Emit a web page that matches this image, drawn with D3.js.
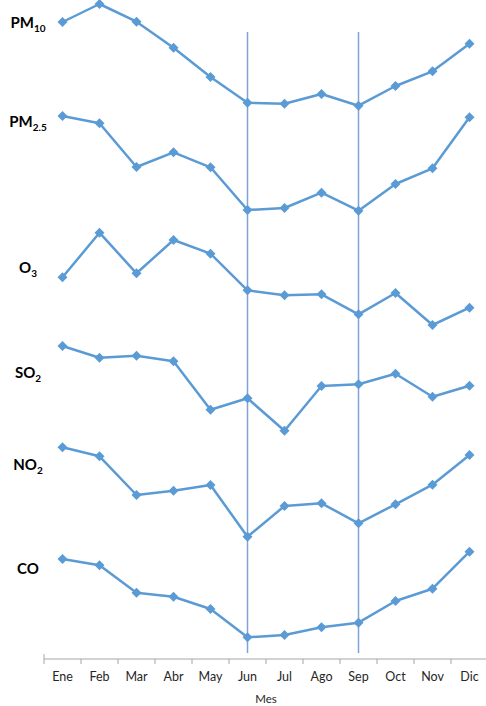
<!DOCTYPE html>
<html>
<head>
<meta charset="utf-8">
<script src="https://cdn.jsdelivr.net/npm/d3@7"></script>
<style>
  html, body { margin: 0; padding: 0; background: #fff; }
  svg { display: block; }
</style>
</head>
<body>
<svg id="chart" width="486" height="706"></svg>
<script>
const months = ["Ene","Feb","Mar","Abr","May","Jun","Jul","Ago","Sep","Oct","Nov","Dic"];
const xTitle = "Mes";
const seriesNames = ["PM10","PM2.5","O3","SO2","NO2","CO"];
const pm10 = [637, 655, 637.3, 611.3, 582, 556.3, 555.3, 565, 553.3, 573, 587.7, 615.3];
const pm25 = [543, 535.7, 492, 506.7, 491.7, 449, 451, 466.3, 448.3, 475, 490.7, 541.7];
const o3   = [381.7, 426.3, 385.7, 419, 405.3, 368.7, 363.7, 364.7, 344.7, 366, 334, 351.3];
const so2  = [313, 301.3, 303.3, 297.7, 249.3, 260.7, 228.3, 273, 274.7, 285.3, 262.3, 273.3];
const no2  = [211.7, 202.7, 164, 168.3, 174, 122.3, 153, 155.7, 135.7, 154.7, 174.3, 204];
const co   = [100, 93.7, 66.3, 62.3, 50, 21.7, 24, 31.7, 36.3, 58, 70.3, 107.3];
const markedMonths = ["Jun","Sep"];
const labelMain = ["PM","PM","O","SO","NO","CO"];
const labelSub  = ["10","2.5","3","2","2",""];

const seriesValues = [pm10, pm25, o3, so2, no2, co];

// layout
const axisY = 659, plotLeft = 44, plotRight = 488;
const labelY = [28, 127, 273, 378, 470, 574];
const labelX = 28;
const color = "#5b9bd5";

const svg = d3.select("#chart");
const x = d3.scaleBand().domain(months).range([plotLeft, plotRight]).padding(0);
const y = d3.scaleLinear().domain([0, 660]).range([axisY, axisY - 660]);
const cx = m => x(m) + x.bandwidth() / 2;

// vertical reference lines
svg.selectAll("line.ref").data(markedMonths).enter().append("line")
  .attr("class","ref")
  .attr("x1", m => cx(m)).attr("x2", m => cx(m))
  .attr("y1", 32).attr("y2", 653)
  .attr("stroke", "#7ea3d6").attr("stroke-width", 1.5);

// axis
const axisG = svg.append("g").attr("transform", `translate(0,${axisY})`);
axisG.append("line").attr("x1", plotLeft).attr("x2", plotRight).attr("y1", 0).attr("y2", 0)
  .attr("stroke", "#a6a6a6").attr("stroke-width", 1);
axisG.selectAll("line.tick").data(months.concat(["__end"])).enter().append("line")
  .attr("class","tick")
  .attr("x1", (m,i) => i < months.length ? x(m) : plotRight)
  .attr("x2", (m,i) => i < months.length ? x(m) : plotRight)
  .attr("y1", (m,i) => i === 0 ? -5 : 0).attr("y2", 5)
  .attr("stroke", "#a6a6a6").attr("stroke-width", 1);
const ax = d3.axisBottom(x).tickSize(0).tickPadding(13);
const axG2 = axisG.append("g").call(ax);
axG2.select(".domain").remove();
axG2.selectAll("text").attr("font-family", "Lato, 'Open Sans', sans-serif").attr("font-size", 12.5).attr("fill", "#262626");

svg.append("text").attr("x", (plotLeft + plotRight) / 2).attr("y", 703)
  .attr("text-anchor","middle").attr("font-family","Lato, 'Open Sans', sans-serif")
  .attr("font-size", 11.5).attr("fill", "#262626").text(xTitle);

// lines and markers
const line = d3.line().x((d,i) => cx(months[i])).y(d => y(d));
const marker = d3.symbol().type(d3.symbolSquare).size(50);
seriesValues.forEach((vals, si) => {
  const g = svg.append("g").attr("class", "series").attr("data-name", seriesNames[si]);
  g.append("path").datum(vals).attr("d", line)
    .attr("fill","none").attr("stroke", color).attr("stroke-width", 2.5).attr("stroke-linejoin","round");
  g.selectAll("path.pt").data(vals).enter().append("path")
    .attr("class","pt")
    .attr("d", marker)
    .attr("transform", (d,i) => `translate(${cx(months[i])},${y(d)}) rotate(45)`)
    .attr("fill", color);
});

// series labels
seriesNames.forEach((n, i) => {
  const t = svg.append("text").attr("x", labelX).attr("y", labelY[i])
    .attr("text-anchor","middle").attr("font-family","Lato, 'Open Sans', sans-serif")
    .attr("font-weight","bold").attr("font-size", 15).attr("fill","#000");
  t.append("tspan").text(labelMain[i]);
  if (labelSub[i]) t.append("tspan").attr("font-size", 10).attr("dy", 4).text(labelSub[i]);
});
</script>
</body>
</html>
